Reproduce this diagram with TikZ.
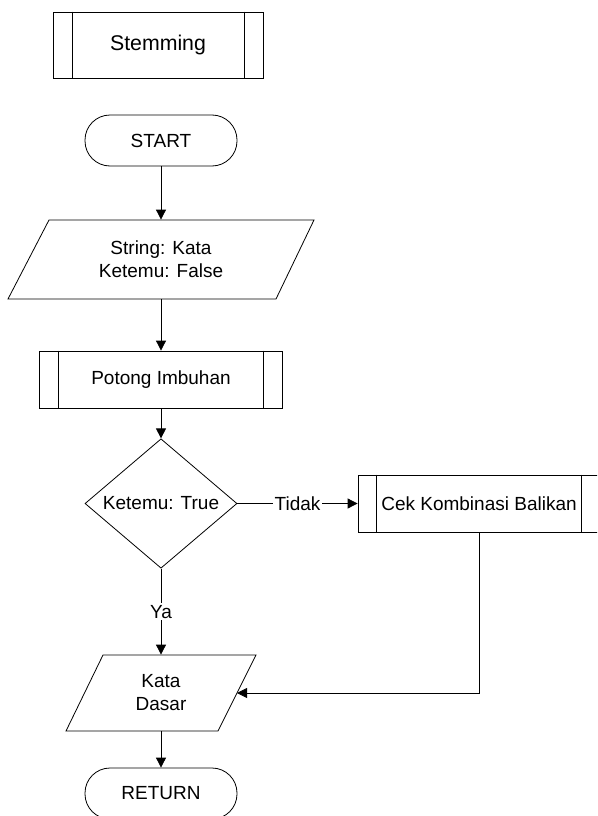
\documentclass[tikz,border=0pt]{standalone}
\usepackage{fontspec}
\setmainfont{Liberation Sans}
\usetikzlibrary{shapes.geometric,arrows.meta,calc}
\begin{document}
\begin{tikzpicture}[x=1pt,y=-1pt, line width=0.8pt,
  every node/.style={font=\fontsize{19}{23}\selectfont},
  box/.style={draw, rectangle, inner sep=0pt},
  term/.style={draw, rectangle, rounded corners=25pt, minimum width=152pt, minimum height=51pt, inner sep=0pt},
  dec/.style={draw, diamond, minimum width=152pt, minimum height=113pt, inner sep=0pt},
  lbl/.style={fill=white, inner sep=1.5pt},
  arr/.style={-{Triangle[length=10pt,width=10pt]}}]
\useasboundingbox (0,0) rectangle (597,816);
\clip (0,0) rectangle (597,816);
% Stemming
\node[box, minimum width=210pt, minimum height=66pt, font=\fontsize{21.3}{25}\selectfont] (stem) at (158,45) {Stemming};
\draw ([xshift=20pt]stem.north west) -- ([xshift=20pt]stem.south west);
\draw ([xshift=-19pt]stem.north east) -- ([xshift=-19pt]stem.south east);
% START
\node[term] (start) at (161,140.5) {START};
% input
\node[minimum width=230pt, minimum height=79pt, inner sep=0pt, align=center] (in1) at (161,259.5) {String: Kata\\Ketemu: False};
\draw (49,220) -- (314,220) -- (276,299) -- (8,299) -- cycle;
% Potong Imbuhan
\node[box, minimum width=243pt, minimum height=57pt] (potong) at (161,379.5) {Potong Imbuhan};
\draw ([xshift=19pt]potong.north west) -- ([xshift=19pt]potong.south west);
\draw ([xshift=-20pt]potong.north east) -- ([xshift=-20pt]potong.south east);
% decision
\node[dec] (dec) at (161,503.5) {Ketemu: True};
% Cek Kombinasi Balikan
\node[box, minimum width=242pt, minimum height=57pt] (cek) at (479,503.5) {Cek Kombinasi Balikan};
\draw ([xshift=19pt]cek.north west) -- ([xshift=19pt]cek.south west);
\draw ([xshift=-19pt]cek.north east) -- ([xshift=-19pt]cek.south east);
% Kata Dasar
\node[minimum width=150pt, minimum height=76pt, inner sep=0pt, align=center] (kata) at (161,693) {Kata\\Dasar};
\draw (103,655) -- (256,655) -- (218,731) -- (66,731) -- cycle;
\coordinate (kr) at (237,693);
% RETURN
\node[term] (ret) at (161,793.5) {RETURN};
% connectors
\draw[arr] (start) -- (in1);
\draw[arr] (in1) -- (potong);
\draw[arr] (potong) -- (dec);
\draw[arr] (dec) -- node[lbl] {Tidak} (cek);
\draw[arr] (dec) -- node[lbl] {Ya} (kata);
\draw[arr] (cek.south) |- (kr);
\draw[arr] (kata) -- (ret);
\end{tikzpicture}
\end{document}
